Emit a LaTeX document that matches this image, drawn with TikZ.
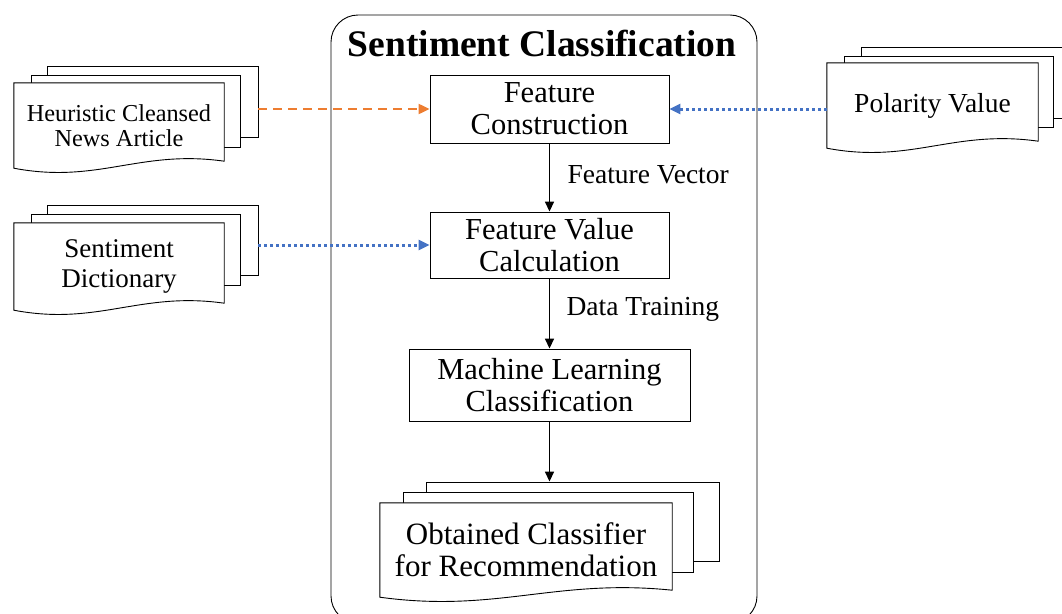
\documentclass[tikz,border=0pt]{standalone}
\usepackage{fontspec}
\setmainfont{Liberation Serif}
\usetikzlibrary{positioning,arrows.meta,calc,backgrounds}

% front page of a stack, wavy bottom
\newcommand{\docwave}[1]{%
  \draw[page] (#1.south west) -- (#1.north west) -- (#1.north east) -- ($(#1.south east)+(0,-7)$)
    .. controls ($(#1.south west)!0.6!(#1.south east)+(0,-19)$) and ($(#1.south west)!0.4!(#1.south east)+(0,16)$) .. (#1.south west) -- cycle;}

\begin{document}
\begin{tikzpicture}[
    x=1pt, y=-1pt,
    box/.style = {draw, line width=0.9pt, align=center, inner sep=0pt, font=\fontsize{30.5}{32}\selectfont},
    page/.style = {draw, line width=0.9pt, fill=white, inner sep=0pt},
    doc/.style = {align=center, inner sep=0pt},
    lbl/.style = {font=\fontsize{27.5}{30}\selectfont, anchor=west},
    flow/.style = {-{Triangle[length=10pt,width=9pt]}, line width=1.6pt},
    feed/.style = {line width=3pt, dash pattern=on 3pt off 3pt},
    > = {Triangle[length=11pt,width=10pt]}
]
\useasboundingbox (0,0) rectangle (1062,613);

% container
\node (frame) [draw, line width=0.9pt, rounded corners=27pt, minimum width=426pt, minimum height=608pt] at (544,319) {};
\node (title) at (542,43) {\fontsize{37.5}{40}\selectfont\bfseries Sentiment Classification};

% steps
\node (fc) [box, minimum width=239pt, minimum height=68pt] at (549.5,109) {Feature\\Construction};
\node (fvc) [box, minimum width=239pt, minimum height=66pt] at (549.5,245) {Feature Value\\Calculation};
\node (mlc) [box, minimum width=281pt, minimum height=72pt] at (549.5,385) {Machine Learning\\Classification};

% document stacks
\node (news) [doc, minimum width=210pt, minimum height=85pt, font=\fontsize{24.3}{25}\selectfont] at (119,125.5) {Heuristic Cleansed\\News Article};
\node (dict) [doc, minimum width=210pt, minimum height=87pt, font=\fontsize{27}{30}\selectfont] at (119,266.5) {Sentiment\\Dictionary};
\node (pol) [doc, minimum width=211pt, minimum height=85pt, font=\fontsize{27.5}{30}\selectfont] at (932.5,105.5) {Polarity Value};
\node (cls) [doc, minimum width=292pt, minimum height=94pt, font=\fontsize{31}{32}\selectfont] at (526,550) {Obtained Classifier\\for Recommendation};

\begin{scope}[on background layer]
\node (news3) [page, minimum width=211pt, minimum height=71pt] at (152.5,101.5) {};
\node (news2) [page, minimum width=209pt, minimum height=72pt] at (135.5,111) {};
\docwave{news}
\node (dict3) [page, minimum width=211pt, minimum height=70pt] at (152.5,240) {};
\node (dict2) [page, minimum width=209pt, minimum height=71pt] at (135.5,249.5) {};
\docwave{dict}
\node (pol3) [page, minimum width=219pt, minimum height=71pt] at (970.5,82.5) {};
\node (pol2) [page, minimum width=209pt, minimum height=71pt] at (948.5,91.5) {};
\docwave{pol}
\node (cls3) [page, minimum width=293pt, minimum height=79pt] at (572.5,521.5) {};
\node (cls2) [page, minimum width=290pt, minimum height=80pt] at (548,532) {};
\docwave{cls}
\end{scope}

% flow
\draw[flow] (fc) -- node[lbl, xshift=14pt, yshift=3pt] {Feature Vector} (fvc);
\draw[flow] (fvc) -- node[lbl, xshift=13pt, yshift=4pt] {Data Training} (mlc);
\draw[flow] (mlc) -- (mlc.south |- cls3.north);

% inputs
\draw[->, line width=2.2pt, color={rgb,255:red,237;green,125;blue,49}, dash pattern=on 9pt off 6pt] (news3.east |- fc) -- (fc);
\draw[->, feed, color={rgb,255:red,68;green,114;blue,196}] (dict3.east |- fvc) -- (fvc);
\draw[->, feed, color={rgb,255:red,68;green,114;blue,196}] (pol.west |- fc) -- (fc);
\end{tikzpicture}
\end{document}
